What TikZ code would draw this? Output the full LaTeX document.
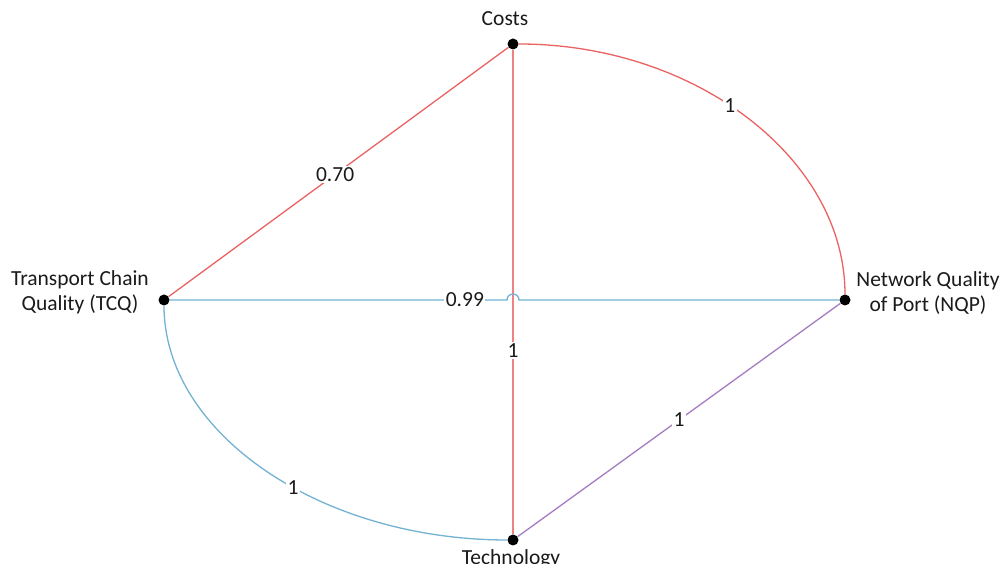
\documentclass[tikz,border=0pt]{standalone}
\usepackage{fontspec}
\setmainfont{Carlito}
\usepackage{tikz}
\usetikzlibrary{positioning,calc}
\usepackage{xcolor}
\definecolor{edgered}{HTML}{EA6262}
\definecolor{edgeblue}{HTML}{72B2D2}
\definecolor{edgepurple}{HTML}{A67CC0}
\definecolor{labelink}{HTML}{1A1A1A}

\begin{document}
\begin{tikzpicture}[x=1pt, y=1pt,
    dot/.style={circle, fill=black, inner sep=0pt, minimum size=11pt},
    critname/.style={font=\fontsize{21.5}{25}\selectfont, text=labelink, align=center},
    weight/.style={font=\fontsize{21.5}{25}\selectfont, text=labelink, fill=white, inner sep=1.5pt},
    redln/.style={edgered, line width=1.3pt},
    blueln/.style={edgeblue, line width=1.3pt},
    purpleln/.style={edgepurple, line width=1.3pt}]
  \useasboundingbox (0,0) rectangle (1005,564);

  % criteria
  \node[dot] (costs) at (513,520) {};
  \node[dot] (tcq) at (164,264) {};
  \node[dot] (nqp) at (845,264) {};
  \node[dot] (tech) at (513,24) {};
  \coordinate (hop) at (507,264);

  \node[critname] (costsname) at (505,545) {Costs};
  \node[critname] (tcqname) at (80,272) {Transport Chain\\Quality (TCQ)};
  \node[critname] (nqpname) at (928,271) {Network Quality\\of Port (NQP)};
  \node[critname] (techname) at (511,5) {Technology};

  % links
  \draw[redln, edgered!80, line width=1.6pt] (costs) -- (tech) node[weight, pos=0.62] {1};
  \draw[blueln] (tcq) -- (hop) node[weight, pos=0.875] {0.99}
    arc[start angle=180, end angle=0, radius=6] -- (nqp);
  \draw[redln] (tcq) -- (costs) node[weight, pos=0.49] {0.70};
  \draw[purpleln] (tech) -- (nqp) node[weight, pos=0.5] {1};
  \draw[redln] (costs) .. controls (696,520) and (845,405) .. (nqp)
    node[weight, pos=0.45] {1};
  \draw[blueln] (tcq) .. controls (164,131) and (320,24) .. (tech)
    node[weight, pos=0.57] {1};
\end{tikzpicture}
\end{document}
